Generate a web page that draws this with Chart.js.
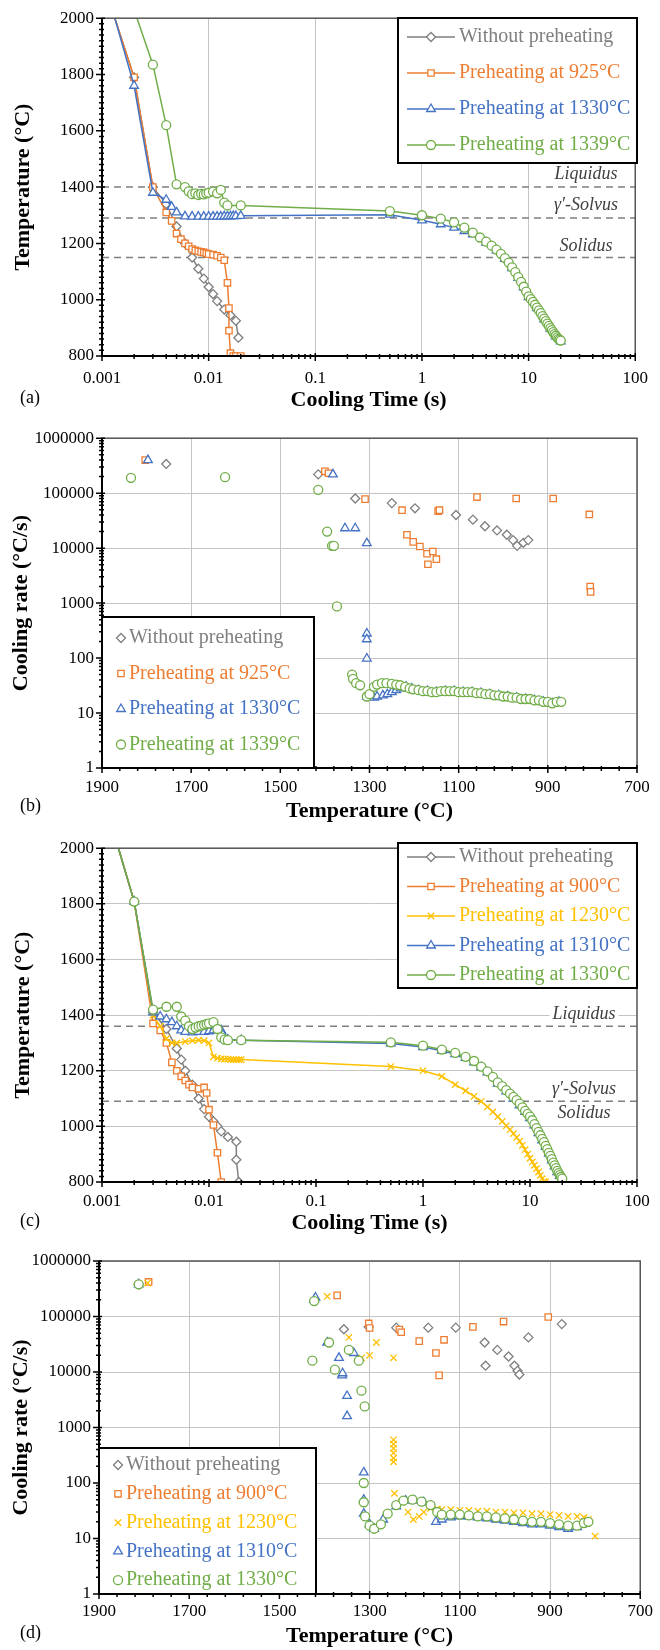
<!DOCTYPE html>
<html>
<head>
<meta charset="utf-8">
<title>Cooling curves and cooling rates</title>
<script src="https://cdn.jsdelivr.net/npm/chart.js@4.4.1/dist/chart.umd.min.js"></script>
<style>
  html, body { margin: 0; padding: 0; background: #fff; }
  #page { position: relative; width: 660px; height: 1650px; overflow: hidden; }
  .panel { position: absolute; left: 0; width: 660px; }
</style>
</head>
<body>
<div id="page">
  <div class="panel" style="top:0px;height:420px"><canvas id="chartA"></canvas></div>
  <div class="panel" style="top:420px;height:410px"><canvas id="chartB"></canvas></div>
  <div class="panel" style="top:830px;height:410px"><canvas id="chartC"></canvas></div>
  <div class="panel" style="top:1240px;height:410px"><canvas id="chartD"></canvas></div>
</div>
<script>
// ---------- axis ticks ----------
const timeTicks = [0.001, 0.01, 0.1, 1, 10, 100];
const timeTickLabels = ['0.001', '0.01', '0.1', '1', '10', '100'];
const tempTicksY = [800, 1000, 1200, 1400, 1600, 1800, 2000];
const rateTicks = [1, 10, 100, 1000, 10000, 100000, 1000000];
const rateTickLabels = ['1', '10', '100', '1000', '10000', '100000', '1000000'];
const tempTicksX = [1900, 1700, 1500, 1300, 1100, 900, 700];

// ---------- panel (a): cooling time (s) vs temperature (°C) ----------
const aLabels = ['Without preheating', 'Preheating at 925°C', 'Preheating at 1330°C', 'Preheating at 1339°C'];
const aGrayTime = [0.001, 0.002, 0.003, 0.004, 0.005, 0.006, 0.007, 0.008, 0.009, 0.010, 0.011, 0.012, 0.014, 0.016, 0.018, 0.019];
const aGrayTemp = [2140, 1790, 1400, 1340, 1260, 1200, 1150, 1110, 1075, 1045, 1020, 995, 965, 945, 925, 865];
const aOrangeTime = [0.001, 0.002, 0.003, 0.004, 0.0045, 0.005, 0.0055, 0.006, 0.0065, 0.007, 0.0075, 0.008, 0.0085, 0.009, 0.0095, 0.010, 0.011, 0.012, 0.013, 0.014, 0.015, 0.0155, 0.0155, 0.016, 0.017, 0.018, 0.020];
const aOrangeTemp = [2140, 1790, 1400, 1310, 1280, 1235, 1215, 1200, 1190, 1180, 1175, 1172, 1170, 1168, 1165, 1162, 1160, 1156, 1150, 1140, 1060, 970, 890, 810, 800, 800, 800];
const aBlueTime = [0.001, 0.002, 0.003, 0.004, 0.0045, 0.005, 0.006, 0.007, 0.008, 0.009, 0.010, 0.011, 0.012, 0.013, 0.014, 0.015, 0.016, 0.017, 0.018, 0.020, 0.5, 1, 1.5, 2, 2.5, 3, 4, 5, 6, 7, 8, 9, 10, 12, 14, 16, 18, 20];
const aBlueTemp = [2160, 1760, 1380, 1355, 1330, 1310, 1296, 1295, 1295, 1295, 1295, 1295, 1295, 1295, 1296, 1296, 1296, 1297, 1297, 1298, 1302, 1282, 1268, 1256, 1244, 1232, 1203, 1175, 1145, 1112, 1078, 1044, 1009, 970, 930, 897, 870, 852];
const aGreenTime = [0.002, 0.003, 0.004, 0.005, 0.006, 0.0065, 0.007, 0.0075, 0.008, 0.0085, 0.009, 0.0095, 0.010, 0.011, 0.012, 0.013, 0.014, 0.015, 0.020, 0.5, 1, 1.5,
  2, 2.5, 3, 3.5, 4, 4.5, 5, 5.5, 6, 6.5, 7, 7.5, 8, 8.5, 9, 9.5, 10, 10.5, 11, 11.5, 12, 12.5, 13, 13.5, 14, 14.5, 15, 15.5, 16, 16.5, 17, 17.5, 18, 18.5, 19, 19.5, 20];
const aGreenTemp = [2030, 1835, 1620, 1410, 1400, 1385, 1375, 1378, 1372, 1376, 1374, 1378, 1380, 1384, 1378, 1390, 1345, 1335, 1335, 1315, 1300, 1288,
  1275, 1256, 1238, 1221, 1206, 1192, 1178, 1163, 1148, 1132, 1115, 1098, 1080, 1063, 1046, 1029, 1012, 1002, 992, 982, 972, 962, 952, 942, 933, 924, 915, 907, 899, 892, 885, 878, 872, 866, 861, 858, 855];
const aRefLines = [1400, 1290, 1150];
const aRefText = ['Liquidus', 'γ′-Solvus', 'Solidus'];
const aRefTextAt = [1446, 1336, 1190];

// ---------- panel (b): temperature (°C) vs cooling rate (°C/s) ----------
const bGrayTemp = [1756, 1415, 1332, 1250, 1198, 1106, 1068, 1041, 1014, 992, 978, 969, 955, 944];
const bGrayRate = [340000, 220000, 80000, 66000, 53000, 40000, 33000, 25000, 21000, 17500, 14000, 11000, 12500, 14000];
const bOrangeTemp = [1803, 1400, 1392, 1310, 1227, 1216, 1202, 1187, 1171, 1169, 1158, 1150, 1146, 1143, 1059, 971, 888, 807, 805, 804];
const bOrangeRate = [400000, 250000, 230000, 78000, 49000, 17500, 13000, 10700, 7900, 5100, 8700, 6300, 47000, 49000, 85000, 80000, 80000, 41000, 2000, 1600];
const bBlueTemp = [1797, 1382, 1355, 1332, 1306, 1306, 1306, 1306, 1306, 1290, 1283, 1270, 1260, 1250, 1240, 1230, 1218, 1205, 1190, 1170, 1150, 1130, 1110, 1090, 1070, 1050, 1030, 1010, 990, 970, 950, 930, 910, 890, 875];
const bBlueRate = [400000, 220000, 23000, 23000, 12300, 280, 220, 98, 20, 19, 20, 21, 22, 24, 26, 28, 30, 28, 26, 25, 24, 25, 25, 24, 24, 23, 22, 21, 20, 19, 18, 17, 16, 15, 16];
const bGreenTemp = [1835, 1624, 1415, 1395, 1384, 1380, 1373, 1339, 1337, 1330, 1321, 1306, 1300, 1290, 1283, 1272, 1262, 1250, 1240, 1231, 1220, 1210, 1202, 1190,
  1180, 1170, 1160, 1150, 1140, 1130, 1120, 1110, 1100, 1090, 1080, 1070, 1060, 1050, 1040, 1030, 1020, 1010, 1000, 990, 980, 970, 960, 950, 940, 930, 920, 910, 900, 890, 880, 870];
const bGreenRate = [190000, 195000, 115000, 20000, 11000, 11000, 870, 50, 42, 35, 32, 20, 22, 30, 33, 35, 35, 34, 33, 32, 30, 28, 27, 26,
  25, 25, 24, 24, 25, 25, 25, 25, 24, 24, 24, 24, 23, 23, 22, 22, 21, 21, 20, 20, 19, 19, 18, 18, 18, 17, 17, 16, 16, 15, 16, 16];

// ---------- panel (c): cooling time (s) vs temperature (°C) ----------
const cLabels = ['Without preheating', 'Preheating at 900°C', 'Preheating at 1230°C', 'Preheating at 1310°C', 'Preheating at 1330°C'];
const cGrayTime = [0.001, 0.002, 0.003, 0.004, 0.005, 0.0055, 0.006, 0.007, 0.008, 0.009, 0.010, 0.011, 0.012, 0.013, 0.015, 0.018, 0.018, 0.019];
const cGrayTemp = [2200, 1808, 1410, 1350, 1280, 1240, 1200, 1150, 1100, 1062, 1035, 1018, 1000, 982, 962, 945, 880, 800];
const cOrangeTime = [0.001, 0.002, 0.003, 0.0035, 0.004, 0.0045, 0.005, 0.0055, 0.006, 0.0065, 0.007, 0.008, 0.009, 0.0095, 0.010, 0.011, 0.012, 0.013];
const cOrangeTemp = [2200, 1808, 1370, 1345, 1300, 1230, 1200, 1180, 1165, 1150, 1140, 1135, 1140, 1120, 1060, 1005, 905, 800];
const cYellowTime = [0.001, 0.002, 0.003, 0.0035, 0.004, 0.0045, 0.005, 0.006, 0.007, 0.008, 0.009, 0.010, 0.011, 0.012, 0.013, 0.014, 0.015, 0.016, 0.017, 0.018, 0.019, 0.020,
  0.5, 1, 1.5, 2, 2.5, 3, 3.5, 4, 4.5, 5, 5.5, 6, 6.5, 7, 7.5, 8, 8.5, 9, 9.5, 10, 10.5, 11, 11.5, 12, 12.5, 13, 13.5, 14];
const cYellowTemp = [2200, 1808, 1400, 1360, 1315, 1300, 1300, 1305, 1308, 1310, 1308, 1300, 1250, 1245, 1243, 1242, 1242, 1240, 1240, 1240, 1240, 1240,
  1215, 1200, 1180, 1150, 1128, 1108, 1090, 1070, 1052, 1035, 1018, 1002, 988, 974, 960, 947, 932, 916, 900, 885, 872, 860, 848, 836, 824, 812, 802, 800];
const cBlueTime = [0.001, 0.002, 0.003, 0.0035, 0.004, 0.0045, 0.005, 0.0055, 0.006, 0.007, 0.008, 0.009, 0.010, 0.011, 0.012, 0.013, 0.0135, 0.015, 0.020,
  0.5, 1, 1.5, 2, 2.5, 3, 3.5, 4, 5, 6, 7, 8, 9, 10, 11, 12, 13, 14, 15, 16, 17, 18, 19, 20];
const cBlueTemp = [2200, 1808, 1410, 1395, 1385, 1375, 1360, 1345, 1340, 1338, 1340, 1340, 1342, 1345, 1348, 1345, 1330, 1312, 1310,
  1298, 1285, 1272, 1260, 1246, 1230, 1212, 1194, 1154, 1126, 1100, 1076, 1052, 1030, 1004, 976, 950, 926, 902, 878, 856, 836, 822, 808];
const cGreenTime = [0.001, 0.002, 0.003, 0.004, 0.005, 0.0055, 0.006, 0.0065, 0.007, 0.0075, 0.008, 0.0085, 0.009, 0.0095, 0.010, 0.011, 0.012, 0.013, 0.014, 0.015, 0.020,
  0.5, 1, 1.5, 2, 2.5, 3, 3.5, 4, 4.5, 5, 5.5, 6, 6.5, 7, 7.5, 8, 8.5, 9, 9.5, 10, 10.5, 11, 11.5, 12, 12.5, 13, 13.5, 14, 14.5, 15, 15.5, 16, 16.5, 17, 17.5, 18, 18.5, 19, 19.5, 20];
const cGreenTemp = [2200, 1808, 1420, 1430, 1430, 1395, 1380, 1360, 1350, 1355, 1360, 1362, 1365, 1368, 1370, 1375, 1350, 1320, 1312, 1310, 1310,
  1302, 1290, 1276, 1264, 1250, 1235, 1215, 1198, 1178, 1158, 1145, 1130, 1118, 1106, 1094, 1082, 1068, 1056, 1045, 1035, 1022, 1008, 994, 980, 968, 955, 943, 930, 918, 905, 894, 882, 870, 860, 850, 840, 832, 825, 818, 812];
const cRefLines = [1360, 1090];
const cRefText = ['Liquidus', 'γ′-Solvus', 'Solidus'];
const cRefTextAt = [1404, 1132, 1048];

// ---------- panel (d): temperature (°C) vs cooling rate (°C/s) ----------
const dGrayTemp = [1812, 1357, 1302, 1241, 1170, 1109, 1045, 1043, 1017, 992, 979, 972, 968, 948, 874];
const dGrayRate = [380000, 59000, 65000, 63000, 63000, 63000, 34000, 13000, 25000, 19000, 13000, 10500, 9000, 42000, 73000];
const dOrangeTemp = [1790, 1372, 1302, 1300, 1234, 1230, 1190, 1153, 1146, 1135, 1071, 1003, 904];
const dOrangeRate = [420000, 240000, 75000, 62000, 58000, 52000, 36000, 22000, 8700, 38000, 65000, 81000, 98000];
const dYellowTemp = [1792, 1394, 1346, 1318, 1300, 1285, 1247, 1247, 1247, 1247, 1247, 1247, 1247, 1245, 1230, 1215, 1203, 1190, 1180, 1165,
  1150, 1140, 1120, 1100, 1080, 1060, 1040, 1020, 1000, 980, 960, 940, 920, 900, 880, 860, 840, 825, 815, 800];
const dYellowRate = [400000, 230000, 42000, 18000, 20000, 34000, 18000, 600, 500, 420, 350, 280, 240, 65, 45, 30, 22, 25, 30, 35,
  34, 33, 33, 32, 32, 31, 31, 30, 30, 29, 29, 28, 28, 27, 26, 25, 25, 24, 22, 11];
const dBlueTemp = [1812, 1423, 1420, 1394, 1368, 1361, 1360, 1335, 1350, 1350, 1313, 1313, 1313, 1300, 1290, 1270, 1241, 1220, 1200, 1180,
  1153, 1140, 1120, 1100, 1080, 1060, 1040, 1020, 1000, 980, 960, 940, 920, 900, 880, 860, 840, 830];
const dBlueRate = [380000, 200000, 220000, 34000, 18000, 8700, 9500, 22000, 3700, 1600, 155, 50, 28, 18, 15, 22, 38, 48, 48, 45,
  20, 22, 24, 25, 25, 24, 23, 22, 21, 20, 19, 18, 18, 17, 16, 15, 16, 18];
const dGreenTemp = [1812, 1423, 1427, 1390, 1377, 1346, 1324, 1318, 1311, 1313, 1313, 1310, 1300, 1290, 1275, 1260, 1241, 1225, 1205, 1185,
  1165, 1150, 1140, 1120, 1100, 1080, 1060, 1040, 1020, 1000, 980, 960, 940, 920, 900, 880, 860, 840, 825, 815];
const dGreenRate = [380000, 190000, 16000, 34000, 11000, 25000, 16000, 4600, 2400, 100, 45, 25, 17, 15, 18, 28, 40, 48, 50, 46,
  40, 30, 27, 27, 27, 26, 25, 25, 24, 23, 22, 21, 20, 20, 19, 18, 17, 17, 19, 20];

// ---------- styles ----------
const FONT = '"Liberation Serif", "Times New Roman", serif';
const tickFont = { family: FONT, size: 17 };
const titleFont = { family: FONT, size: 22, weight: 'bold' };
const GRID = '#c4c4c4';
const aColors = ['#7f7f7f', '#ed7d31', '#4472c4', '#70ad47'];
const aStyles = ['rectRot', 'rect', 'triangle', 'circle'];
const cColors = ['#7f7f7f', '#ed7d31', '#ffc000', '#4472c4', '#70ad47'];
const cStyles = ['rectRot', 'rect', 'crossRot', 'triangle', 'circle'];
const radiusFor = { rectRot: 4.5, rect: 4.5, crossRot: 4.5, triangle: 5, circle: 4.5 };

function series(label, xs, ys, color, style, line, i, n) {
  return {
    label, showLine: line, order: n - i,
    data: xs.map((v, k) => ({ x: v, y: ys[k] })),
    borderColor: color, backgroundColor: color, borderWidth: 1.5,
    pointStyle: style, pointRadius: radiusFor[style],
    pointBorderColor: color, pointBackgroundColor: '#fff', pointBorderWidth: 1.3
  };
}

function minorLog(lo, hi) {
  const out = [];
  for (let d = lo; d < hi * 0.99; d *= 10) for (let k = 2; k <= 9; k++) out.push(k * d);
  return out;
}
function minorLin(lo, hi, step) {
  const out = [];
  for (let v = lo; v <= hi; v += step) out.push(v);
  return out;
}

// frame, minor ticks, reference lines, legend box and panel letter
const extras = {
  id: 'extras',
  beforeDatasetsDraw(chart, args, o) {
    const { ctx, chartArea: ca, scales: { y } } = chart;
    ctx.save();
    (o.refLines || []).forEach(v => {
      const py = y.getPixelForValue(v);
      ctx.strokeStyle = '#7f7f7f'; ctx.lineWidth = 1.5; ctx.setLineDash([7, 5]);
      ctx.beginPath(); ctx.moveTo(ca.left, py); ctx.lineTo(ca.right, py); ctx.stroke();
    });
    ctx.setLineDash([]);
    ctx.font = 'italic 18px ' + FONT;
    ctx.textAlign = 'center'; ctx.textBaseline = 'middle';
    (o.refText || []).forEach((t, i) => {
      const py = y.getPixelForValue(o.refTextAt[i]);
      const w = ctx.measureText(t).width;
      ctx.fillStyle = '#fff'; ctx.fillRect(o.refX - w / 2 - 3, py - 9, w + 6, 18);
      ctx.fillStyle = '#404040'; ctx.fillText(t, o.refX, py);
    });
    ctx.restore();
  },
  afterDraw(chart, args, o) {
    const { ctx, chartArea: ca, scales: { x, y } } = chart;
    ctx.save();
    ctx.strokeStyle = '#555'; ctx.lineWidth = 1.5;
    ctx.strokeRect(ca.left, ca.top, ca.right - ca.left, ca.bottom - ca.top);
    ctx.strokeStyle = '#000'; ctx.lineWidth = 2;
    ctx.beginPath(); ctx.moveTo(ca.left, ca.top); ctx.lineTo(ca.left, ca.bottom); ctx.lineTo(ca.right, ca.bottom); ctx.stroke();
    ctx.lineWidth = 1.5; ctx.beginPath();
    x.ticks.forEach(t => { const p = x.getPixelForValue(t.value); ctx.moveTo(p, ca.bottom - 3); ctx.lineTo(p, ca.bottom + 5); });
    o.minorX.forEach(v => { const p = x.getPixelForValue(v); ctx.moveTo(p, ca.bottom - 2); ctx.lineTo(p, ca.bottom + 3); });
    y.ticks.forEach(t => { const p = y.getPixelForValue(t.value); ctx.moveTo(ca.left - 6, p); ctx.lineTo(ca.left + 3, p); });
    o.minorY.forEach(v => { const p = y.getPixelForValue(v); ctx.moveTo(ca.left - 3, p); ctx.lineTo(ca.left + 2, p); });
    ctx.stroke();

    const L = o.legend;
    ctx.fillStyle = '#fff'; ctx.fillRect(L.x, L.y, L.w, L.h);
    ctx.strokeStyle = '#000'; ctx.lineWidth = 2; ctx.strokeRect(L.x, L.y, L.w, L.h);
    chart.data.datasets.forEach((ds, i) => {
      const cy = L.y + L.first + i * L.row;
      ctx.strokeStyle = ds.borderColor;
      if (L.line) {
        ctx.lineWidth = 1.5;
        ctx.beginPath(); ctx.moveTo(L.mx - L.line, cy); ctx.lineTo(L.mx + L.line, cy); ctx.stroke();
      }
      ctx.fillStyle = '#fff'; ctx.lineWidth = 1.3;
      Chart.helpers.drawPoint(ctx, { pointStyle: ds.pointStyle, radius: ds.pointRadius, rotation: 0, borderWidth: 1.3 }, L.mx, cy);
      ctx.fillStyle = ds.borderColor;
      ctx.font = '20px ' + FONT; ctx.textAlign = 'left'; ctx.textBaseline = 'middle';
      ctx.fillText(ds.label, L.tx, cy);
    });

    ctx.fillStyle = '#000'; ctx.font = '18px ' + FONT;
    ctx.textAlign = 'left'; ctx.textBaseline = 'middle';
    ctx.fillText(o.letter, o.letterAt[0], o.letterAt[1]);
    ctx.restore();
  }
};

function timeScale(h, labelPad, titlePad, grid) {
  return {
    type: 'logarithmic', min: 0.001, max: 100,
    afterBuildTicks: s => { s.ticks = timeTicks.map(v => ({ value: v })); },
    afterFit: s => { s.height = h; },
    ticks: { autoSkip: false, maxRotation: 0, padding: labelPad, color: '#000', font: tickFont, callback: (v, i) => timeTickLabels[i] },
    grid: { display: grid, color: GRID, drawTicks: false },
    border: { display: false },
    title: { display: true, text: 'Cooling Time (s)', color: '#000', font: titleFont, padding: { top: 0, bottom: titlePad } }
  };
}
function tempYScale(w, grid) {
  return {
    type: 'linear', min: 800, max: 2000,
    afterBuildTicks: s => { s.ticks = tempTicksY.map(v => ({ value: v })); },
    afterFit: s => { s.width = w; },
    ticks: { padding: 8, color: '#000', font: tickFont, callback: v => String(v) },
    grid: { display: grid, color: GRID, drawTicks: false },
    border: { display: false },
    title: { display: true, text: 'Temperature (°C)', color: '#000', font: titleFont, padding: { top: 10, bottom: 0 } }
  };
}
function tempXScale(h, labelPad, titlePad) {
  return {
    type: 'linear', min: 700, max: 1900, reverse: true,
    afterBuildTicks: s => { s.ticks = tempTicksX.map(v => ({ value: v })); },
    afterFit: s => { s.height = h; },
    ticks: { autoSkip: false, maxRotation: 0, padding: labelPad, color: '#000', font: tickFont, callback: v => String(v) },
    grid: { color: GRID, drawTicks: false },
    border: { display: false },
    title: { display: true, text: 'Temperature (°C)', color: '#000', font: titleFont, padding: { top: 0, bottom: titlePad } }
  };
}
function rateScale(w) {
  return {
    type: 'logarithmic', min: 1, max: 1000000,
    afterBuildTicks: s => { s.ticks = rateTicks.map(v => ({ value: v })); },
    afterFit: s => { s.width = w; },
    ticks: { padding: 8, color: '#000', font: tickFont, callback: (v, i) => rateTickLabels[i] },
    grid: { color: GRID, drawTicks: false },
    border: { display: false },
    title: { display: true, text: 'Cooling rate (°C/s)', color: '#000', font: titleFont, padding: { top: 8, bottom: 0 } }
  };
}

function baseOptions(padding, scales, extraOpts) {
  return {
    responsive: true, maintainAspectRatio: false, animation: false, events: [],
    layout: { padding },
    scales,
    plugins: { legend: { display: false }, tooltip: { enabled: false }, extras: extraOpts }
  };
}

// ---------- (a) ----------
const aSeries = [[aGrayTime, aGrayTemp], [aOrangeTime, aOrangeTemp], [aBlueTime, aBlueTemp], [aGreenTime, aGreenTemp]];
new Chart(document.getElementById('chartA'), {
  type: 'scatter',
  data: { datasets: aSeries.map((s, i) => series(aLabels[i], s[0], s[1], aColors[i], aStyles[i], true, i, 4)) },
  options: baseOptions({ top: 18, right: 23, bottom: 0, left: 0 },
    { x: timeScale(64, 12, 6, true), y: tempYScale(102, false) },
    { letter: '(a)', letterAt: [20, 398], minorX: minorLog(0.001, 100), minorY: minorLin(800, 2000, 20),
      refLines: aRefLines, refText: aRefText, refTextAt: aRefTextAt, refX: 586,
      legend: { x: 398, y: 18, w: 239, h: 145, first: 19, row: 36, mx: 431, line: 24, tx: 459 } }),
  plugins: [extras]
});

// ---------- (b) ----------
const bSeries = [[bGrayTemp, bGrayRate], [bOrangeTemp, bOrangeRate], [bBlueTemp, bBlueRate], [bGreenTemp, bGreenRate]];
new Chart(document.getElementById('chartB'), {
  type: 'scatter',
  data: { datasets: bSeries.map((s, i) => series(aLabels[i], s[0], s[1], aColors[i], aStyles[i], false, i, 4)) },
  options: baseOptions({ top: 12, right: 23, bottom: 0, left: 0 },
    { x: tempXScale(62, 9, 5), y: rateScale(102) },
    { letter: '(b)', letterAt: [20, 386], minorX: minorLin(700, 1900, 40), minorY: minorLog(1, 1000000),
      legend: { x: 102, y: 197, w: 212, h: 151, first: 21, row: 35.5, mx: 121, line: 0, tx: 129 } }),
  plugins: [extras]
});

// ---------- (c) ----------
const cSeries = [[cGrayTime, cGrayTemp], [cOrangeTime, cOrangeTemp], [cYellowTime, cYellowTemp], [cBlueTime, cBlueTemp], [cGreenTime, cGreenTemp]];
new Chart(document.getElementById('chartC'), {
  type: 'scatter',
  data: { datasets: cSeries.map((s, i) => series(cLabels[i], s[0], s[1], cColors[i], cStyles[i], true, i, 5)) },
  options: baseOptions({ top: 13, right: 23, bottom: 0, left: 0 },
    { x: timeScale(58, 9, 3, false), y: tempYScale(102, true) },
    { letter: '(c)', letterAt: [20, 391], minorX: minorLog(0.001, 100), minorY: minorLin(800, 2000, 20),
      refLines: cRefLines, refText: cRefText, refTextAt: cRefTextAt, refX: 584,
      legend: { x: 398, y: 13, w: 239, h: 145, first: 14, row: 29.5, mx: 431, line: 24, tx: 459 } }),
  plugins: [extras]
});

// ---------- (d) ----------
const dSeries = [[dGrayTemp, dGrayRate], [dOrangeTemp, dOrangeRate], [dYellowTemp, dYellowRate], [dBlueTemp, dBlueRate], [dGreenTemp, dGreenRate]];
new Chart(document.getElementById('chartD'), {
  type: 'scatter',
  data: { datasets: dSeries.map((s, i) => series(cLabels[i], s[0], s[1], cColors[i], cStyles[i], false, i, 5)) },
  options: baseOptions({ top: 21, right: 14, bottom: 0, left: 0 },
    { x: tempXScale(56, 7, 0), y: rateScale(99) },
    { letter: '(d)', letterAt: [20, 393], minorX: minorLin(700, 1900, 40), minorY: minorLog(1, 1000000),
      legend: { x: 99, y: 208, w: 217, h: 146, first: 17, row: 28.8, mx: 118, line: 0, tx: 126 } }),
  plugins: [extras]
});
</script>
</body>
</html>
